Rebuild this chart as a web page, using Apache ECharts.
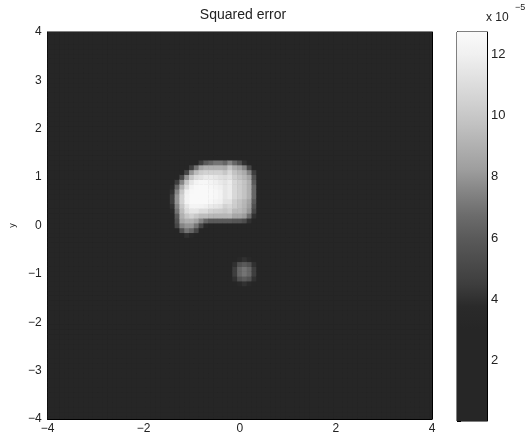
<!DOCTYPE html>
<html>
<head>
<meta charset="utf-8">
<script src="https://cdn.jsdelivr.net/npm/echarts@6/dist/echarts.min.js"></script>
<style>html,body{margin:0;padding:0;background:#fff;}#chart{width:530px;height:440px;}</style>
</head>
<body>
<div id="chart"></div>
<script>
// ---- data (squared error, units of 1e-5) ----
const titleText = 'Squared error';
const xTickLabels = ['-4', '-2', '0', '2', '4'];
const yTickLabels = ['-4', '-3', '-2', '-1', '0', '1', '2', '3', '4'];
const colorbarTicks = [2, 4, 6, 8, 10, 12];
const colorbarMax = 12.75;
const backgroundError = 1.0;
const gridStep = 0.1;

const mainBlobX = [-1.4, -1.3, -1.2, -1.1, -1.0, -0.9, -0.8, -0.7, -0.6, -0.5, -0.4, -0.3, -0.2, -0.1, 0.0, 0.1, 0.2, 0.3, 0.4];
const mainBlobY = [1.4, 1.3, 1.2, 1.1, 1.0, 0.9, 0.8, 0.7, 0.6, 0.5, 0.4, 0.3, 0.2, 0.1, 0.0, -0.1, -0.2, -0.3];
const mainBlobValues = [
  [1,1,1,1,1,1,1,1,1,1,1,1,1,1,1,1,1,1,1],
  [1,1,1,1,1,1,4.5,6,6.5,7,7,6.5,7.5,6.5,5.5,4,1,1,1],
  [1,1,1,1,4.5,7,8.5,9,9,9,9,8.8,9.8,8.8,8.3,7.5,5,1,1],
  [1,1,1,5,8,9.5,10.2,10.5,10.5,10.5,10.5,10,10.8,9.8,9.3,8.8,7.5,4.5,1],
  [1,1,5,8,10,11,11.3,11.7,11.7,11.5,11.2,11,11.3,10.3,9.8,9.3,8.5,5.5,1],
  [1,4.5,7.5,10,11.5,12.2,12.5,12.5,12.3,12,11.7,11.4,11.8,10.8,10.3,9.8,9,6,1],
  [3.5,6.5,9,11,12.2,12.6,12.7,12.7,12.5,12.3,12,11.5,11.8,10.8,10.3,9.8,9,6.5,1],
  [4,7.5,10,12,12.6,12.7,12.7,12.7,12.7,12.5,12.2,11.5,11.8,10.8,10.3,9.8,9,6.5,1],
  [4.5,8,10.5,12.2,12.7,12.7,12.7,12.7,12.7,12.5,12.2,11.5,11.8,10.8,10.3,9.8,9,6.5,1],
  [4.5,8,10.5,12.2,12.7,12.7,12.7,12.7,12.5,12.2,12,11.3,11.3,10.3,9.8,9.3,8.5,6,1],
  [4,7.5,10,11.5,12.3,12.3,12.2,12,11.7,11.5,11.3,10.5,10.8,10.2,9.7,9.2,8.3,5.5,1],
  [3.5,7,9.5,11,11.5,11.5,11,11,10.5,10.3,10.2,10,10.3,9.4,9.4,9,8,5,1],
  [1,6,9,10,10.5,10,9.5,9.5,9.3,9.2,9.2,9.2,9.3,8.6,8.6,8.2,6.8,4,1],
  [1,5.5,8.5,9,9,8.5,7.5,6.5,6,6,6,6,6,5.8,5.8,5.3,4,1,1],
  [1,5,7.5,8,8,7,5,3.5,1,1,1,1,1,1,1,1,1,1,1],
  [1,1,5.5,7,6.5,5,1,1,1,1,1,1,1,1,1,1,1,1,1],
  [1,1,1,4,3.5,1,1,1,1,1,1,1,1,1,1,1,1,1,1],
  [1,1,1,1,1,1,1,1,1,1,1,1,1,1,1,1,1,1,1]
];

const smallBlobX = [-0.1, 0.0, 0.1, 0.2, 0.3];
const smallBlobY = [-0.7, -0.8, -0.9, -1.0, -1.1, -1.2];
const smallBlobValues = [
  [1, 3.5, 4, 3.5, 1],
  [4, 5.5, 6, 5.5, 4],
  [4.5, 6.5, 7, 6.5, 4.5],
  [4.5, 6.5, 7, 6.5, 4.5],
  [4, 5.5, 6, 5.5, 4],
  [1, 3.5, 4, 3.5, 1]
];

// gray colormap (evenly spaced stops over 0..colorbarMax)
const colormapGrays = [38, 38, 38, 38, 38, 42, 62, 76, 90, 108, 132, 158, 176, 194, 210, 225, 240, 250];

// ---- build table ----
const key = (x, y) => Math.round(x * 10) + ',' + Math.round(y * 10);
const overrides = {};
mainBlobY.forEach((y, r) => mainBlobX.forEach((x, c) => { overrides[key(x, y)] = mainBlobValues[r][c]; }));
smallBlobY.forEach((y, r) => smallBlobX.forEach((x, c) => { overrides[key(x, y)] = smallBlobValues[r][c]; }));
const cells = [];
for (let i = -40; i <= 40; i++) {
  for (let j = -40; j <= 40; j++) {
    const x = i / 10, y = j / 10;
    const k = key(x, y);
    cells.push([x, y, k in overrides ? overrides[k] : backgroundError]);
  }
}
const colors = colormapGrays.map(g => 'rgb(' + g + ',' + g + ',' + g + ')');

const chart = echarts.init(document.getElementById('chart'), null, {renderer: 'canvas'});
const font = '"Liberation Sans", Arial, Helvetica, sans-serif';
const labelStyle = {color: '#222', fontSize: 12, fontFamily: font};

function renderCell(params, api) {
  const x = api.value(0), y = api.value(1), h = gridStep / 2;
  const p0 = api.coord([x - h, y + h]);
  const p1 = api.coord([x + h, y - h]);
  const cs = params.coordSys;
  const shape = echarts.graphic.clipRectByRect(
    {x: p0[0] - 0.3, y: p0[1] - 0.3, width: p1[0] - p0[0] + 0.6, height: p1[1] - p0[1] + 0.6},
    {x: cs.x, y: cs.y, width: cs.width, height: cs.height});
  return shape && {type: 'rect', shape: shape, style: {fill: api.visual('color')}};
}

function renderColorbar(params, api) {
  const p0 = api.coord([0, colorbarMax]);
  const p1 = api.coord([1, 0]);
  const stops = colors.map((c, i) => ({offset: i / (colors.length - 1), color: c}));
  return {
    type: 'rect',
    shape: {x: p0[0], y: p0[1], width: p1[0] - p0[0], height: p1[1] - p0[1]},
    style: {fill: new echarts.graphic.LinearGradient(0, 1, 0, 0, stops)}
  };
}

const axisLine = {show: true, onZero: false, lineStyle: {color: '#000', width: 1}};
const tickIn = {show: true, inside: true, length: 4, lineStyle: {color: '#000'}};
const fmt = (list) => v => { const i = list.indexOf(String(v)); return i >= 0 ? list[i].replace('-', '\u2212') : ''; };

chart.setOption({
  animation: false,
  backgroundColor: '#fff',
  title: {
    text: titleText, left: 238, top: 3, textAlign: 'center',
    textStyle: {fontSize: 14, fontWeight: 'normal', color: '#222', fontFamily: font}
  },
  grid: [
    {left: 44, top: 32, width: 388, height: 387, show: true, backgroundColor: 'rgb(38,38,38)', borderColor: '#000', borderWidth: 1},
    {left: 457, top: 32, width: 30, height: 389, show: true, backgroundColor: 'transparent', borderColor: '#000', borderWidth: 1}
  ],
  xAxis: [
    {gridIndex: 0, type: 'value', min: -4, max: 4, interval: 2, position: 'bottom',
     axisLine: axisLine, axisTick: tickIn, splitLine: {show: false},
     axisLabel: Object.assign({margin: 4, formatter: fmt(xTickLabels)}, labelStyle)},
    {gridIndex: 0, type: 'value', min: -4, max: 4, interval: 2, position: 'top',
     axisLine: axisLine, axisTick: tickIn, splitLine: {show: false}, axisLabel: {show: false}},
    {gridIndex: 1, type: 'value', min: 0, max: 1, show: false}
  ],
  yAxis: [
    {gridIndex: 0, type: 'value', min: -4, max: 4, interval: 1, position: 'left',
     name: 'y', nameLocation: 'middle', nameGap: 29, nameRotate: 90,
     nameTextStyle: {fontSize: 9, color: '#222', fontFamily: font},
     axisLine: axisLine, axisTick: tickIn, splitLine: {show: false},
     axisLabel: Object.assign({margin: 6, formatter: fmt(yTickLabels)}, labelStyle)},
    {gridIndex: 0, type: 'value', min: -4, max: 4, interval: 1, position: 'right',
     axisLine: axisLine, axisTick: tickIn, splitLine: {show: false}, axisLabel: {show: false}},
    {gridIndex: 1, type: 'value', min: 0, max: colorbarMax, interval: 2, position: 'left',
     axisLine: axisLine, axisTick: tickIn, splitLine: {show: false}, axisLabel: {show: false}},
    {gridIndex: 1, type: 'value', min: 0, max: colorbarMax, interval: 2, position: 'right',
     axisLine: axisLine, axisTick: tickIn, splitLine: {show: false},
     axisLabel: Object.assign({margin: 4, showMinLabel: false, showMaxLabel: false,
       formatter: v => colorbarTicks.indexOf(v) >= 0 ? String(v) : ''}, labelStyle, {fontSize: 13})}
  ],
  visualMap: {
    show: false, type: 'continuous', min: 0, max: colorbarMax, dimension: 2, seriesIndex: 0,
    inRange: {color: colors}
  },
  graphic: [
    {type: 'text', left: 486, top: 12, style: {text: 'x 10', fontSize: 12, fill: '#222', fontFamily: font}},
    {type: 'text', left: 515, top: 3, style: {text: '\u22125', fontSize: 9, fill: '#222', fontFamily: font}}
  ],
  series: [
    {type: 'custom', xAxisIndex: 0, yAxisIndex: 0, renderItem: renderCell, data: cells, silent: true},
    {type: 'custom', xAxisIndex: 2, yAxisIndex: 2, renderItem: renderColorbar, data: [[0, 0]], silent: true}
  ]
});
</script>
</body>
</html>
